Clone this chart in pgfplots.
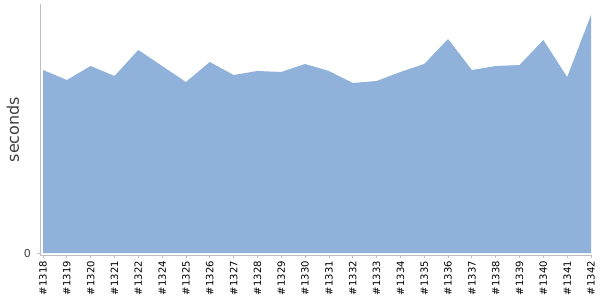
\documentclass[border=0pt]{standalone}
\usepackage{pgfplots}
\pgfplotsset{compat=1.18}
\usepackage{fontspec}
\setmainfont{DejaVu Sans}
\definecolor{areablue}{RGB}{143,177,218}
\definecolor{axgray}{RGB}{190,190,190}
\begin{document}
\begin{tikzpicture}
\useasboundingbox (-40pt,-45pt) rectangle (560pt,255pt);
\begin{axis}[
  at={(0,0)}, anchor=south west,
  scale only axis,
  width=551pt, height=251pt,
  xmin=-0.126, xmax=23,
  ymin=-2, ymax=249,
  axis x line*=bottom,
  axis y line*=left,
  axis line style={axgray, line width=0.8pt},
  /pgf/number format/assume math mode=true,
  xtick={0,...,23},
  xticklabels={\#1318,\#1319,\#1320,\#1321,\#1322,\#1324,\#1325,\#1326,\#1327,\#1328,\#1329,\#1330,\#1331,\#1332,\#1333,\#1334,\#1335,\#1336,\#1337,\#1338,\#1339,\#1340,\#1341,\#1342},
  xticklabel style={yshift=-3pt, rotate=90, anchor=east, font=\fontsize{10}{12}\selectfont, inner sep=0pt},
  ytick={0},
  yticklabels={0},
  yticklabel style={font=\fontsize{11}{12}\selectfont, text=black!75, inner sep=0pt, xshift=-6pt},
  tick align=outside,
  major tick length=3pt,
  tick style={axgray, line width=0.8pt},
  ylabel={seconds},
  every axis y label/.style={at={(axis description cs:0,0.5)}, xshift=-27pt, rotate=90, anchor=center, font=\fontsize{16}{18}\selectfont, text=black!75},
  clip=false,
]
\addplot[draw=none, fill=areablue] coordinates {
(0,183) (1,173) (2,187) (3,177) (4,203) (5,187) (6,171) (7,191) (8,178) (9,182) (10,181) (11,189) (12,182) (13,170) (14,172) (15,181) (16,189) (17,214) (18,183) (19,187) (20,188) (21,213) (22,176) (23,238)
} \closedcycle;
\end{axis}
\end{tikzpicture}
\end{document}
